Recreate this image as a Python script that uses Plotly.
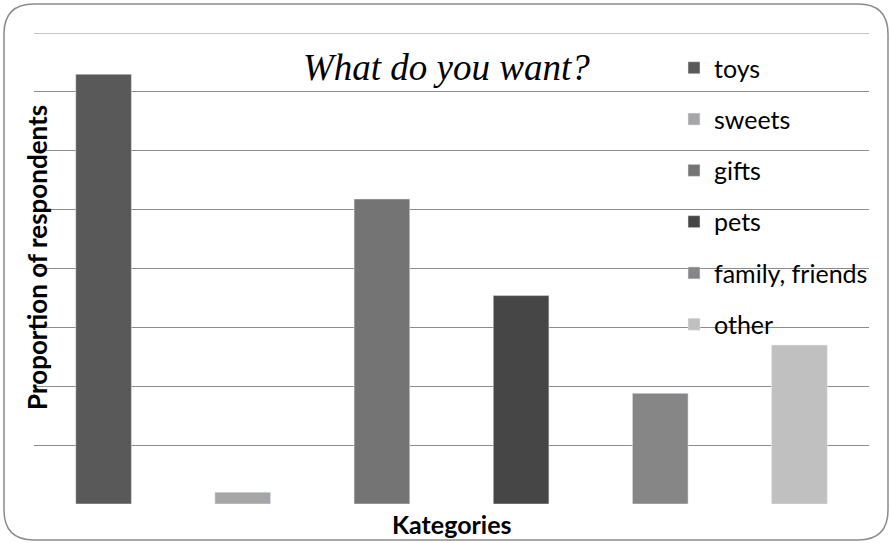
import plotly.graph_objects as go

categories = ["toys", "sweets", "gifts", "pets", "family, friends", "other"]
values = [36.5, 1.0, 25.9, 17.7, 9.4, 13.5]
colors = ["#595959", "#a6a6a6", "#747474", "#464646", "#868686", "#c0c0c0"]

W, H = 891, 543
ml, mr, mt, mb = 34, 22, 33, 39
pw, ph = W - ml - mr, H - mt - mb
grid_color = "#8c8c8c"

def px(x):
    return (x - ml) / pw

def py(y):
    return (H - mb - y) / ph

fig = go.Figure()
for i, (c, v, col) in enumerate(zip(categories, values, colors)):
    fig.add_trace(go.Bar(x=[c], y=[v], name=c, marker_color=col, width=0.4,
                         legendgroup=str(i)))

# rounded border
x0, y0, x1, y1, r = 4, 4, 888, 540, 30
path = (f"M {px(x0)},{py(y0 + r)} Q {px(x0)},{py(y0)} {px(x0 + r)},{py(y0)} "
        f"L {px(x1 - r)},{py(y0)} Q {px(x1)},{py(y0)} {px(x1)},{py(y0 + r)} "
        f"L {px(x1)},{py(y1 - r)} Q {px(x1)},{py(y1)} {px(x1 - r)},{py(y1)} "
        f"L {px(x0 + r)},{py(y1)} Q {px(x0)},{py(y1)} {px(x0)},{py(y1 - r)} Z")
fig.add_shape(type="path", xref="paper", yref="paper", path=path,
              line=dict(color="#8a8a8a", width=1.5), layer="below")
# top gridline (at the range edge)
fig.add_shape(type="line", xref="paper", yref="y", x0=0, x1=1, y0=40, y1=40,
              line=dict(color=grid_color, width=1), layer="below")

fig.add_annotation(text="What do you want?", xref="paper", yref="paper",
                   x=px(446), y=py(67), xanchor="center", yanchor="middle",
                   showarrow=False,
                   font=dict(family="Liberation Serif", size=37, color="#000000", style="italic"))
fig.add_annotation(text="<b>Proportion of respondents</b>", xref="paper", yref="paper",
                   x=px(37), y=py(258), xanchor="center", yanchor="middle",
                   textangle=-90, showarrow=False,
                   font=dict(family="Lato", size=26, color="#000000"))
fig.add_annotation(text="<b>Kategories</b>", xref="paper", yref="paper",
                   x=px(452), y=py(524), xanchor="center", yanchor="middle",
                   showarrow=False,
                   font=dict(family="Lato", size=25, color="#000000"))

fig.update_layout(
    width=W, height=H,
    margin=dict(l=ml, r=mr, t=mt, b=mb, autoexpand=False),
    paper_bgcolor="white", plot_bgcolor="white",
    barmode="relative",
    showlegend=True,
    legend=dict(x=px(674), y=py(45), xanchor="left", yanchor="top",
                traceorder="grouped", tracegroupgap=15.8,
                font=dict(family="Lato", size=25, color="#000000"),
                bgcolor="rgba(0,0,0,0)", itemwidth=30),
    xaxis=dict(showticklabels=False, showgrid=False, zeroline=False, showline=False,
               ticks="", automargin=False),
    yaxis=dict(range=[0, 40], dtick=5, showticklabels=False, showgrid=True,
               gridcolor=grid_color, gridwidth=1, zeroline=False, showline=False,
               ticks="", automargin=False),
)

fig.write_html("out.html", config={"displayModeBar": False},
               post_script="document.body.style.margin='0';document.body.style.overflow='hidden';")
